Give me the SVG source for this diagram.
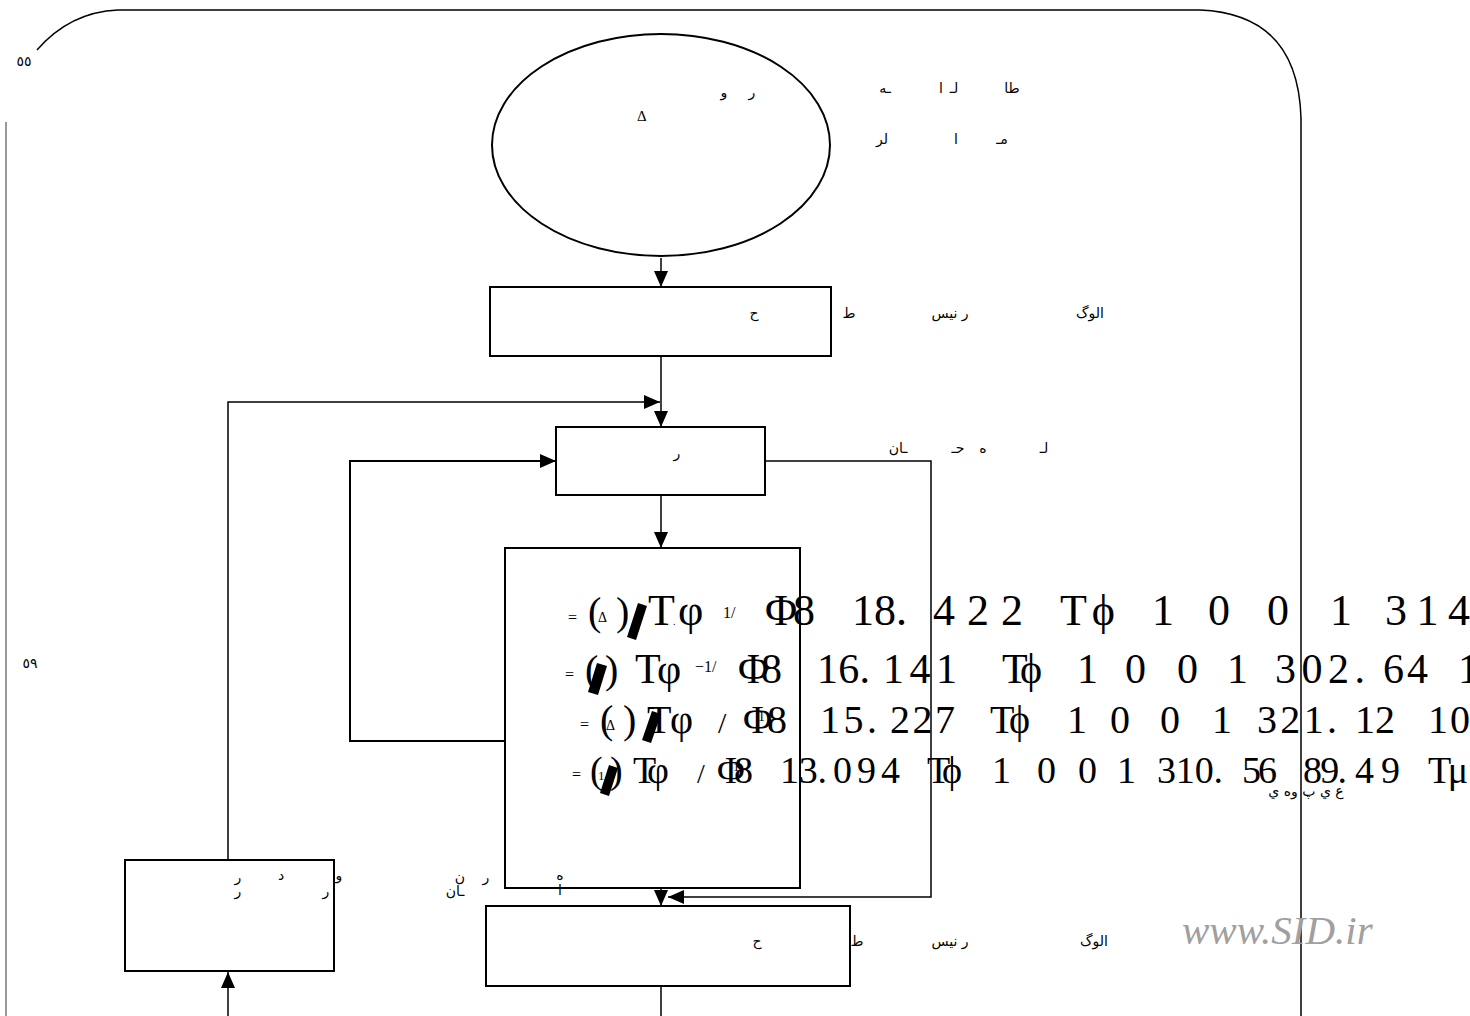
<svg xmlns="http://www.w3.org/2000/svg" width="1470" height="1016" viewBox="0 0 1470 1016">
<defs>
<style>
.box{fill:none;stroke:#000;stroke-width:2}
.ln{fill:none;stroke:#000;stroke-width:1.5}
.ar{font-family:"DejaVu Sans","Noto Sans",sans-serif;font-size:14px;fill:#000;text-anchor:middle}
.f{font-family:"Liberation Serif","Times New Roman",serif;fill:#000}
.sm{font-family:"Liberation Serif",serif;font-size:15px;fill:#000}
</style>
<marker id="ah" markerWidth="16" markerHeight="14" refX="16" refY="7" orient="auto" markerUnits="userSpaceOnUse"><path d="M0,0 L16,7 L0,14 z" fill="#000"/></marker>
</defs>
<rect width="1470" height="1016" fill="#fff"/>
<g id="frame">
<path class="ln" d="M37,50 Q70,12 118,10 L1200,10 Q1298,14 1301,118 L1301,1016"/>
<line x1="6" y1="122" x2="6" y2="1016" stroke="#777" stroke-width="1.5"/>
<text x="24" y="66" class="ar" font-size="14">٥٥</text>
<text x="30" y="668" class="ar" font-size="13">٥٩</text>
</g>
<g id="connectors">
<line class="ln" x1="661" y1="258" x2="661" y2="287" marker-end="url(#ah)"/>
<line class="ln" x1="661" y1="356" x2="661" y2="427" marker-end="url(#ah)"/>
<polyline class="ln" points="228,860 228,402 660,402" marker-end="url(#ah)"/>
<polyline class="box" points="505,741 350,741 350,461 556,461" marker-end="url(#ah)"/>
<polyline class="ln" points="765,461 931,461 931,897 668,897" marker-end="url(#ah)"/>
<line class="ln" x1="661" y1="495" x2="661" y2="548" marker-end="url(#ah)"/>
<line class="ln" x1="661" y1="888" x2="661" y2="906" marker-end="url(#ah)"/>
<line class="ln" x1="661" y1="986" x2="661" y2="1016"/>
<line class="ln" x1="228" y1="1016" x2="228" y2="972" marker-end="url(#ah)"/>
</g>
<g id="start">
<ellipse class="box" cx="661" cy="145" rx="169" ry="111"/>
<text class="ar" x="724" y="97">و</text>
<text class="ar" x="752" y="97">ر</text>
<text class="sm" x="637" y="121">Δ</text>
<text class="ar" x="885" y="93">ـه</text>
<text class="ar" x="941" y="93">ا</text>
<text class="ar" x="954" y="93">لـ</text>
<text class="ar" x="1012" y="93">طا</text>
<text class="ar" x="882" y="144">لر</text>
<text class="ar" x="956" y="144">ا</text>
<text class="ar" x="1002" y="144">مـ</text>
</g>
<g id="box1">
<rect class="box" x="490" y="287" width="341" height="69"/>
<text class="ar" x="754" y="318">ح</text>
<text class="ar" x="849" y="318">ط</text>
<text class="ar" x="950" y="318">ر نيس</text>
<text class="ar" x="1090" y="318">الوگ</text>
</g>
<g id="box2">
<rect class="box" x="556" y="427" width="209" height="68"/>
<text class="ar" x="677" y="458">ر</text>
<text class="ar" x="898" y="453">ـان</text>
<text class="ar" x="958" y="453">حـ</text>
<text class="ar" x="983" y="453">ه</text>
<text class="ar" x="1044" y="453">لـ</text>
</g>
<g id="box-formula">
<rect class="box" x="505" y="548" width="295" height="340"/>
<g class="f">
<text x="568" y="623" font-size="16">=</text>
<text x="588" y="625" font-size="40">(</text>
<text x="598" y="622" font-size="14">Δ</text>
<text x="616" y="625" font-size="40">)</text>
<polygon points="627,637 638,603 647,606 636,640"/>
<text x="648" y="625" font-size="44">T</text>
<text x="673" y="625" font-size="10">.</text>
<text x="678" y="625" font-size="44">φ</text>
<text x="723" y="618" font-size="16">1/</text>
<text x="765" y="625" font-size="44" textLength="50" lengthAdjust="spacing">Φ8</text>
<text x="852" y="625" font-size="44">18.</text>
<text x="933" y="625" font-size="44" textLength="90" lengthAdjust="spacing">422</text>
<text x="1060" y="625" font-size="44" textLength="55" lengthAdjust="spacing">Tϕ</text>
<text x="1152" y="625" font-size="44">1</text>
<text x="1208" y="625" font-size="44">0</text>
<text x="1267" y="625" font-size="44">0</text>
<text x="1330" y="625" font-size="44">1</text>
<text x="1385" y="625" font-size="44" textLength="85" lengthAdjust="spacing">314</text>

<text x="565" y="680" font-size="16">=</text>
<text x="585" y="683" font-size="40">(</text>
<text x="594" y="680" font-size="14">1</text>
<polygon points="588,692 597,663 607,666 598,695"/>
<text x="605" y="683" font-size="40">)</text>
<text x="635" y="683" font-size="42">T</text>
<text x="657" y="683" font-size="42">φ</text>
<text x="695" y="672" font-size="16">−1/</text>
<text x="738" y="683" font-size="42" textLength="44" lengthAdjust="spacing">Φ8</text>
<text x="817" y="683" font-size="42" textLength="53" lengthAdjust="spacing">16.</text>
<text x="883" y="683" font-size="42" textLength="74" lengthAdjust="spacing">141</text>
<text x="1002" y="683" font-size="42" textLength="40" lengthAdjust="spacing">Tϕ</text>
<text x="1077" y="683" font-size="42">1</text>
<text x="1125" y="683" font-size="42">0</text>
<text x="1177" y="683" font-size="42">0</text>
<text x="1227" y="683" font-size="42">1</text>
<text x="1275" y="683" font-size="42" textLength="90" lengthAdjust="spacing">302.</text>
<text x="1383" y="683" font-size="42" textLength="45" lengthAdjust="spacing">64</text>
<text x="1458" y="683" font-size="42">1</text>

<text x="580" y="730" font-size="16">=</text>
<text x="600" y="733" font-size="40">(</text>
<text x="606" y="730" font-size="14">Δ</text>
<text x="623" y="733" font-size="40">)</text>
<text x="647" y="733" font-size="40">T</text>
<polygon points="642,740 652,711 661,714 651,743"/>
<text x="670" y="733" font-size="40">φ</text>
<text x="718" y="733" font-size="30">/</text>
<text x="743" y="733" font-size="40" textLength="44" lengthAdjust="spacing">Φ8</text>
<text x="758" y="721" font-size="14">1</text>
<text x="820" y="733" font-size="40" textLength="57" lengthAdjust="spacing">15.</text>
<text x="890" y="733" font-size="40" textLength="65" lengthAdjust="spacing">227</text>
<text x="990" y="733" font-size="40" textLength="40" lengthAdjust="spacing">Tϕ</text>
<text x="1067" y="733" font-size="40">1</text>
<text x="1110" y="733" font-size="40">0</text>
<text x="1160" y="733" font-size="40">0</text>
<text x="1212" y="733" font-size="40">1</text>
<text x="1257" y="733" font-size="40" textLength="80" lengthAdjust="spacing">321.</text>
<text x="1355" y="733" font-size="40" textLength="40" lengthAdjust="spacing">12</text>
<text x="1428" y="733" font-size="40" textLength="42" lengthAdjust="spacing">10</text>

<text x="572" y="780" font-size="16">=</text>
<text x="590" y="783" font-size="38">(</text>
<text x="598" y="780" font-size="13">1</text>
<polygon points="600,793 609,765 618,768 609,796"/>
<text x="610" y="783" font-size="38">)</text>
<text x="633" y="783" font-size="38">T</text>
<text x="647" y="783" font-size="38">φ</text>
<text x="697" y="783" font-size="28">/</text>
<text x="717" y="783" font-size="38" textLength="36" lengthAdjust="spacing">Φ8</text>
<text x="733" y="771" font-size="13">1</text>
<text x="780" y="783" font-size="38" textLength="47" lengthAdjust="spacing">13.</text>
<text x="833" y="783" font-size="38" textLength="67" lengthAdjust="spacing">094</text>
<text x="927" y="783" font-size="38" textLength="35" lengthAdjust="spacing">Tϕ</text>
<text x="992" y="783" font-size="38">1</text>
<text x="1037" y="783" font-size="38">0</text>
<text x="1078" y="783" font-size="38">0</text>
<text x="1117" y="783" font-size="38">1</text>
<text x="1157" y="783" font-size="38" textLength="66" lengthAdjust="spacing">310.</text>
<text x="1242" y="783" font-size="38" textLength="35" lengthAdjust="spacing">56</text>
<text x="1303" y="783" font-size="38" textLength="44" lengthAdjust="spacing">89.</text>
<text x="1355" y="783" font-size="38" textLength="45" lengthAdjust="spacing">49</text>
<text x="1428" y="783" font-size="38" textLength="40" lengthAdjust="spacing">Tμ</text>
</g>
<text class="ar" x="1306" y="796" font-size="11">ع ي پ وه ي</text>
</g>
<g id="box3">
<rect class="box" x="486" y="906" width="364" height="80"/>
<text class="ar" x="757" y="946">ح</text>
<text class="ar" x="857" y="946">ط</text>
<text class="ar" x="950" y="946">ر نيس</text>
<text class="ar" x="1094" y="946">الوگ</text>
<text class="ar" x="460" y="882">ن</text>
<text class="ar" x="486" y="882">ر</text>
<text class="ar" x="455" y="896">ـان</text>
<text class="ar" x="560" y="880">ه</text>
<text class="ar" x="560" y="895">ا</text>
</g>
<g id="box4">
<rect class="box" x="125" y="860" width="209" height="111"/>
<text class="ar" x="238" y="882">ر</text>
<text class="ar" x="281" y="880">د</text>
<text class="ar" x="339" y="880">و</text>
<text class="ar" x="326" y="896">ر</text>
<text class="ar" x="238" y="896">ر</text>
</g>
<text x="1182" y="944" font-family="Liberation Serif,serif" font-style="italic" font-size="41" fill="#a0a0a0">www.SID.ir</text>
</svg>
